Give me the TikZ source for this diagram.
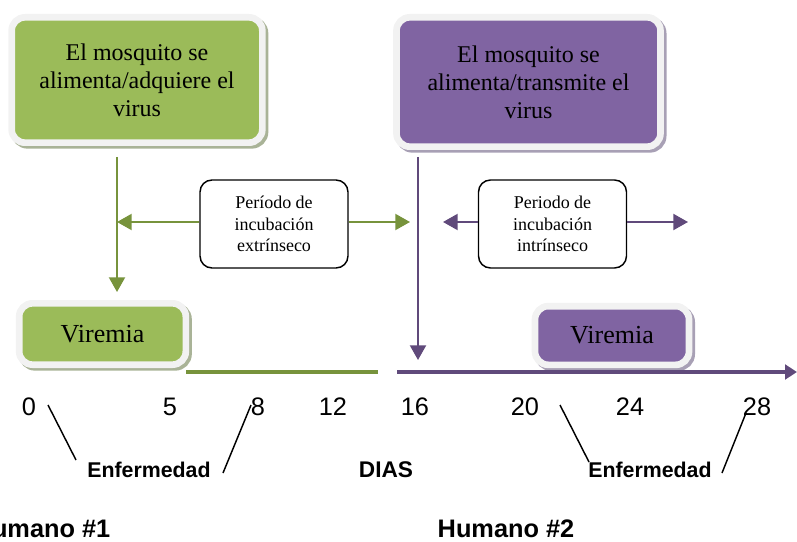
\documentclass[tikz,border=0pt]{standalone}
\usepackage{fontspec}
\setmainfont{Liberation Serif}
\setsansfont{Liberation Sans}
\usetikzlibrary{arrows.meta, shadows, positioning}

\definecolor{mosqgreen}{HTML}{9BBB59}
\definecolor{mosqpurple}{HTML}{8064A2}
\definecolor{linegreen}{HTML}{77933C}
\definecolor{linepurple}{HTML}{604A7B}
\definecolor{framegray}{HTML}{F2F2F2}
\definecolor{shadegreen}{HTML}{A9B397}
\definecolor{shadepurple}{HTML}{A8A0B5}

\tikzset{
  officebox/.style={rounded corners=10pt, draw=framegray, line width=5pt, inner sep=0pt, align=center},
  greenbox/.style={officebox, fill=mosqgreen,
    drop shadow={shadow xshift=2pt, shadow yshift=-2pt, opacity=1, fill=shadegreen, draw=shadegreen, line width=5pt}},
  purplebox/.style={officebox, fill=mosqpurple,
    drop shadow={shadow xshift=2pt, shadow yshift=-2pt, opacity=1, fill=shadepurple, draw=shadepurple, line width=5pt}},
  periodbox/.style={draw=black, line width=1.1pt, rounded corners=9pt, fill=white,
    minimum width=111pt, minimum height=66pt, align=center, inner sep=0pt,
    font=\fontsize{13.5}{16}\selectfont},
  tip/.style={-{Triangle[length=11pt,width=12pt]}},
  gline/.style={linegreen, line width=1.5pt},
  pline/.style={linepurple, line width=1.5pt},
  daylabel/.style={font=\sffamily\fontsize{19}{22}\selectfont},
  boldlabel/.style={font=\sffamily\bfseries\fontsize{16}{19}\selectfont},
  humanlabel/.style={font=\sffamily\bfseries\fontsize{19}{22}\selectfont, anchor=base, inner sep=0.5pt},
}

\begin{document}
\begin{tikzpicture}[x=0.75pt, y=-0.75pt]
\useasboundingbox (0,0) rectangle (797,542);

% mosquito boxes
\node[greenbox, minimum width=188pt, minimum height=94pt,
  font=\fontsize{18}{21}\selectfont] (feed1) at (137,80)
  {El mosquito se\\alimenta/adquiere el\\virus};
\node[purplebox, minimum width=198pt, minimum height=97pt,
  font=\fontsize{18}{21}\selectfont] (feed2) at (528.5,82)
  {El mosquito se\\alimenta/transmite el\\virus};

% incubation boxes
\node[periodbox] (ext) at (274,224) {Período de\\incubación\\extrínseco};
\node[periodbox] (int) at (552.5,224) {Periodo de\\incubación\\intrínseco};

% viremia boxes
\node[greenbox, minimum width=125pt, minimum height=46pt,
  font=\fontsize{19.5}{22}\selectfont] (vir1) at (102.5,334) {Viremia};
\node[purplebox, minimum width=115.5pt, minimum height=44pt,
  font=\fontsize{19.5}{22}\selectfont] (vir2) at (612,335.5) {Viremia};

\coordinate (g top) at (117,157);
\coordinate (g bot) at (117,292);
\coordinate (g left) at (117,222);
\coordinate (g right) at (410,222);
\coordinate (p top) at (418,157);
\coordinate (p bot) at (418,360);
\coordinate (p left) at (443,222);
\coordinate (p right) at (688,222);

\draw[gline, tip] (g top) -- (g bot);
\draw[gline, tip] (ext.west |- g left) -- (g left);
\draw[gline, tip] (ext.east |- g right) -- (g right);
\draw[pline, tip] (p top) -- (p bot);
\draw[pline, tip] (int.west |- p left) -- (p left);
\draw[pline, tip] (int.east |- p right) -- (p right);

% time axis
\coordinate (ax g1) at (186,372);
\coordinate (ax g2) at (378,372);
\coordinate (ax p1) at (397,372);
\coordinate (ax p2) at (797,372);
\draw[linegreen, line width=3pt] (ax g1) -- (ax g2);
\draw[linepurple, line width=3pt, -{Triangle[length=9pt,width=11pt]}] (ax p1) -- (ax p2);

\node[daylabel] (d0) at (29,407) {0};
\node[daylabel] (d5) at (170,407) {5};
\node[daylabel] (d8) at (258,407) {8};
\node[daylabel] (d12) at (333,407) {12};
\node[daylabel] (d16) at (415,407) {16};
\node[daylabel] (d20) at (525,407) {20};
\node[daylabel] (d24) at (630,407) {24};
\node[daylabel] (d28) at (757,407) {28};

\node[boldlabel] (ill1) at (149,470) {Enfermedad};
\node[boldlabel, font=\sffamily\bfseries\fontsize{17}{20}\selectfont] (dias) at (386,470) {DIAS};
\node[boldlabel] (ill2) at (650,470) {Enfermedad};

\draw[black, line width=1.1pt] (48,405) -- (76,460);
\draw[black, line width=1.1pt] (223,473) -- (251,405);
\draw[black, line width=1.1pt] (560,405) -- (589,462);
\draw[black, line width=1.1pt] (722,473) -- (746,413);

\node[humanlabel] (hum1) at (42,537) {Humano \#1};
\node[humanlabel] (hum2) at (506,537) {Humano \#2};
\end{tikzpicture}
\end{document}
